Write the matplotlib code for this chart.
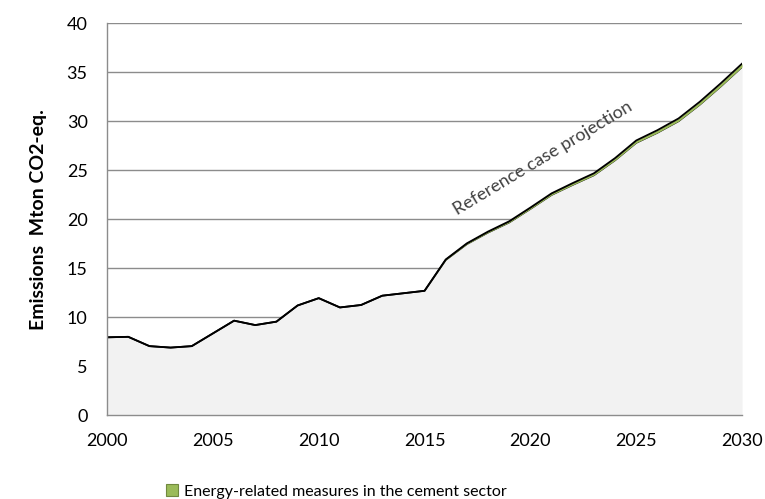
import matplotlib
matplotlib.use("Agg")
import matplotlib.pyplot as plt
import numpy as np

plt.rcParams['font.family'] = ['Lato', 'DejaVu Sans']

years = list(range(2000, 2031))
# total emissions, reference case (Mton CO2-eq.)
reference = [7.95, 8.0, 7.05, 6.9, 7.05, 8.35, 9.65, 9.2, 9.55, 11.2, 11.95,
             11.0, 11.25, 12.2, 12.45, 12.7, 15.9, 17.55, 18.75, 19.8, 21.2,
             22.65, 23.7, 24.7, 26.25, 28.05, 29.1, 30.3, 32.0, 33.9, 35.9]
# reduction from energy-related measures in the cement sector
measures = [0, 0, 0, 0, 0, 0, 0, 0, 0, 0, 0,
            0, 0, 0, 0, 0, 0.05, 0.08, 0.1, 0.12, 0.14,
            0.16, 0.18, 0.2, 0.22, 0.24, 0.26, 0.28, 0.3, 0.32, 0.34]

yticks = [0, 5, 10, 15, 20, 25, 30, 35, 40]
xticks = [2000, 2005, 2010, 2015, 2020, 2025, 2030]

remaining = np.array(reference) - np.array(measures)

fig = plt.figure(figsize=(7.65, 4.99), dpi=100)
ax = fig.add_axes([0.14, 0.168, 0.83, 0.785])

ax.fill_between(years, 0, remaining, color='#F2F2F2', lw=0, zorder=2)
ax.plot(years, remaining, color='black', lw=1.3, zorder=3)
ax.fill_between(years, remaining, reference, color='#9BBB59', lw=0, zorder=3,
                label='Energy-related measures in the cement sector')
ax.plot(years, reference, color='black', lw=1.3, zorder=4)

ax.set_xlim(2000, 2030)
ax.set_ylim(0, 40)
ax.set_xticks(xticks)
ax.set_yticks(yticks)
ax.tick_params(axis='both', length=0, labelsize=13)
ax.tick_params(axis='y', pad=14)
ax.tick_params(axis='x', pad=13)
ax.grid(axis='y', color='#8C8C8C', lw=1, zorder=1)
ax.set_axisbelow(True)
for s in ['top', 'right']:
    ax.spines[s].set_visible(False)
for s in ['left', 'bottom']:
    ax.spines[s].set_color('#8C8C8C')
    ax.spines[s].set_linewidth(1)
    ax.spines[s].set_zorder(5)

ax.set_ylabel('Emissions  Mton CO2-eq.', fontsize=14, fontweight='bold', labelpad=14)

ax.text(2020.6, 26.2, 'Reference case projection', rotation=31, fontsize=13,
        color='#404040', ha='center', va='center', rotation_mode='anchor')

leg = fig.legend(loc='center', bbox_to_anchor=(0.44, 0.015), frameon=False,
                 fontsize=11.5, handlelength=0.7, handleheight=0.7, handletextpad=0.4)
for h in leg.legend_handles:
    h.set_edgecolor('#71893F')
    h.set_linewidth(0.8)

fig.savefig('out.png', dpi=100)
